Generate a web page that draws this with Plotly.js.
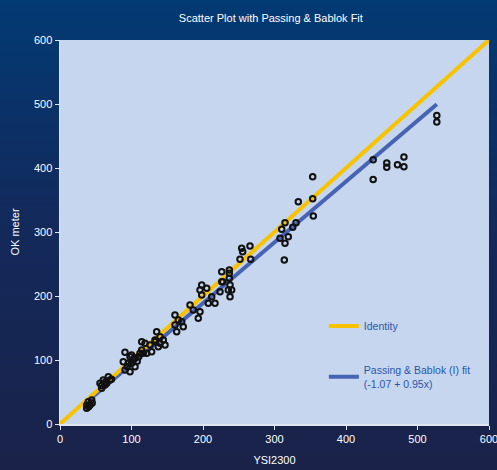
<!DOCTYPE html>
<html>
<head>
<meta charset="utf-8">
<script src="https://cdn.plot.ly/plotly-3.0.1.min.js"></script>
<style>
html,body{margin:0;padding:0;width:497px;height:470px;overflow:hidden;}
body{background:linear-gradient(to bottom,#023a74 0%,#122a5c 45%,#1a2249 100%);}
#chart{width:497px;height:470px;}
</style>
</head>
<body>
<div id="chart"></div>
<script>
var ysi = [39.6,37.3,42.0,37.3,44.3,45,40,
  67.6,60.6,65.3,55.9,58.3,69.9,62.9,72,58,64,
  90.9,97.9,88.5,95.5,102.5,90.9,97.9,104.9,114.3,118.9,125.9,132.9,121.3,128.2,139.9,100,105,94,108,110,100,
  111.9,116.5,114.3,146.9,137.5,132.9,144.5,139.9,135.2,163.2,172.4,170.2,160.8,165.5,160.8,
  193.4,195.8,186.4,181.8,207.4,216.8,212.2,198.2,205.2,195.8,198.2,223.8,226.2,235.4,236.8,
  226.2,236.8,236.8,227.6,237.8,240.1,237.8,
  254.1,255.5,251.7,265.7,266.7,
  307.7,314.7,313.7,310.1,319.3,314.7,330.1,325.5,
  333.3,354.3,353.4,353.4,
  438,457,457,472,481,481,438,527,527];
var okMeter = [34.8,29.7,29.7,24.5,37.5,33,27,
  73.9,68.8,63.6,63.6,55.8,68.8,60.9,70,60,66,
  112,105.2,97.3,94.8,100,84.4,81.7,89.5,115.6,126.1,123.4,131.3,110.5,113,126.1,95,103,90,98,105,108,
  110.5,110.5,128.6,123.4,120.8,128.6,131.3,136.4,144.2,144.2,152,159.8,154.7,162.5,170.3,
  165.2,175.5,178.1,185.9,188.6,188.6,198.9,201.6,212,209.4,217.2,206.7,222.3,209.4,235.5,
  238,240.6,227.7,222.3,217.2,209.4,198.9,
  274.5,269.2,257.3,278.1,257.3,
  290.2,282.3,256.3,304.2,292.7,314.5,314.5,307.3,
  347.3,325,352,386.4,
  413,408,401,405,417,402,382,482,472];
var identityX = [0, 600];
var fitRange = [35, 527];
var fitIntercept = -1.07;
var fitSlope = 0.95;
var axisTicks = [0,100,200,300,400,500,600];

var identityY = identityX.slice();
var fitY = fitRange.map(function(x){return fitIntercept + fitSlope*x;});

var traces = [
  {x: fitRange, y: fitY, mode:'lines', name:'Passing &amp; Bablok (I) fit<br>(-1.07 + 0.95x)',
   line:{color:'#4763b4', width:4}, legendgroup:'b', legendrank:2, hoverinfo:'skip'},
  {x: identityX, y: identityY, mode:'lines', name:'Identity',
   line:{color:'#f7c300', width:4}, legendgroup:'a', legendrank:1, hoverinfo:'skip'},
  {x: ysi, y: okMeter, mode:'markers', name:'data', showlegend:false,
   marker:{symbol:'circle-open', size:5.5, color:'#111111', line:{width:2, color:'#111111'}}}
];

var axisCommon = {
  range:[0,600], tickvals: axisTicks, ticks:'outside', ticklen:4, tickcolor:'#dfe6f2', tickwidth:1,
  showgrid:false, zeroline:false, showline:true, linecolor:'#dfe6f2', linewidth:1.5,
  ticklabeloverflow:'allow',
  tickfont:{color:'#ffffff', size:11, family:'Liberation Sans, Arial, sans-serif'}, fixedrange:true
};

var layout = {
  width:497, height:470,
  margin:{l:60, r:8, t:40, b:46},
  paper_bgcolor:'rgba(0,0,0,0)',
  plot_bgcolor:'#c6d6ee',
  title:{text:'Scatter Plot with Passing &amp; Bablok Fit', x:0.545, xanchor:'center', y:0.97,
    font:{color:'#ffffff', size:11, family:'Liberation Sans, Arial, sans-serif'}},
  xaxis: Object.assign({}, axisCommon, {title:{text:'YSI2300', standoff:12,
    font:{color:'#ffffff', size:11, family:'Liberation Sans, Arial, sans-serif'}}}),
  yaxis: Object.assign({}, axisCommon, {title:{text:'OK meter', standoff:12,
    font:{color:'#ffffff', size:11, family:'Liberation Sans, Arial, sans-serif'}}}),
  showlegend:true,
  legend:{x:0.615, y:0.293, xanchor:'left', yanchor:'top', bgcolor:'rgba(0,0,0,0)',
    tracegroupgap:26, traceorder:'grouped',
    font:{color:'#2a56a8', size:10.5, family:'Liberation Sans, Arial, sans-serif'}}
};

Plotly.newPlot('chart', traces, layout, {displayModeBar:false, staticPlot:true});
</script>
</body>
</html>
